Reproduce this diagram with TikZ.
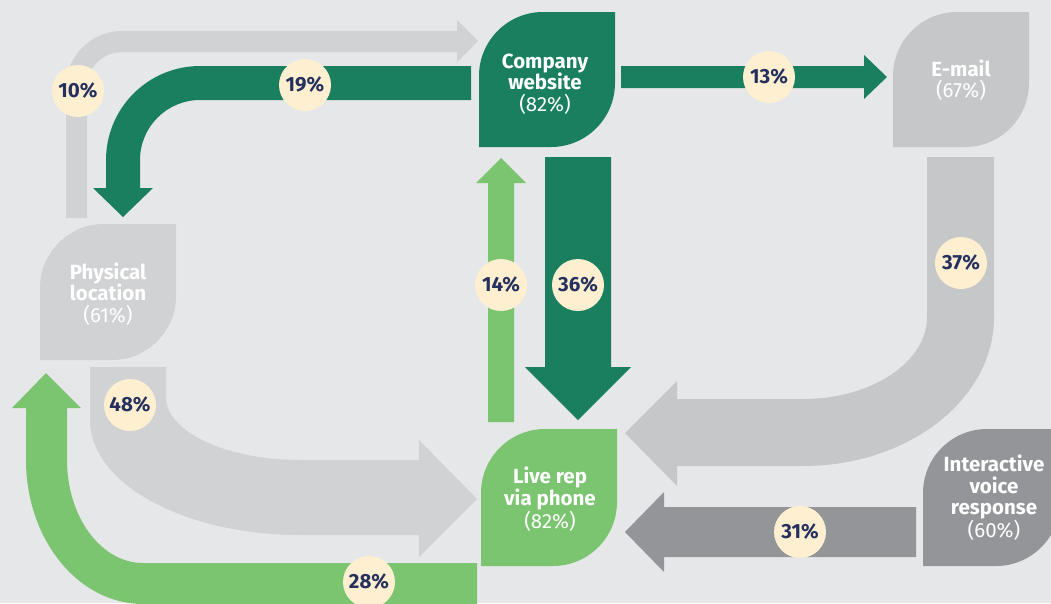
\documentclass[tikz,border=0pt]{standalone}
\usepackage{fontspec}
\setmainfont{Fira Sans}
\definecolor{bg}{HTML}{E6E7E9}
\definecolor{darkgreen}{HTML}{197F5E}
\definecolor{lightgreen}{HTML}{7BC470}
\definecolor{palegray}{HTML}{D1D2D4}
\definecolor{midgray}{HTML}{C6C7C9}
\definecolor{darkgray}{HTML}{939598}
\definecolor{cream}{HTML}{FEEFD1}
\definecolor{navy}{HTML}{24305E}

% corner radius of the leaf boxes and its Bezier handle length
\newcommand{\leafrad}{64}
\newcommand{\leafk}{35.3}
% leaf box: x0, y0, x1, y1, colour (top-left and bottom-right corners rounded)
\newcommand{\leafbox}[5]{%
  \fill[#5] (#1,#4) -- ({#1},{#2+\leafrad})
    .. controls ({#1},{#2+\leafrad-\leafk}) and ({#1+\leafrad-\leafk},{#2}) .. ({#1+\leafrad},{#2})
    -- (#3,#2) -- ({#3},{#4-\leafrad})
    .. controls ({#3},{#4-\leafrad+\leafk}) and ({#3-\leafrad+\leafk},{#4}) .. ({#3-\leafrad},{#4})
    -- cycle;}

\tikzset{
  pct/.style={circle, fill=cream, minimum size=52pt, inner sep=0pt, text=navy,
    font=\bfseries\fontsize{20.5}{22}\selectfont},
  leaflabel/.style={text=white, align=center,
    font=\bfseries\fontsize{20.5}{21.5}\selectfont},
}

\begin{document}
\begin{tikzpicture}[x=1pt,y=-1pt]
\useasboundingbox (0,0) rectangle (1051,603);
\fill[bg] (0,0) rectangle (1051,603);
\begin{scope}
\clip (0,0) rectangle (1051,603);

% Physical location -> Company website (10%)
\fill[palegray] (66,218) -- (66,87) .. controls (66,56.1) and (91.1,31) .. (122,31)
  -- (457,31) -- (457,20) -- (478,41) -- (457,62) -- (457,52) -- (122,52)
  .. controls (102.7,52) and (87,67.7) .. (87,87) -- (87,218) -- cycle;

% Company website -> Physical location (19%)
\fill[darkgreen] (471,66) -- (200,66) .. controls (148.1,66) and (106,108.1) .. (106,160)
  -- (106,188) -- (93,188) -- (123,217) -- (153,188) -- (140,188) -- (140,160)
  .. controls (140,126.9) and (166.9,100) .. (200,100) -- (471,100) -- cycle;

% Company website -> E-mail (13%)
\fill[darkgreen] (621,66) -- (864,66) -- (864,55) -- (887,77) -- (864,99) -- (864,88) -- (621,88) -- cycle;

% Company website -> Live rep (36%)
\fill[darkgreen] (545,157) -- (611,157) -- (611,367) -- (631,367) -- (578,420) -- (525,367) -- (545,367) -- cycle;

% Live rep -> Company website (14%)
\fill[lightgreen] (488,422) -- (488,183) -- (476,183) -- (501,158) -- (526,183) -- (514,183) -- (514,422) -- cycle;

% E-mail -> Live rep (37%)
\fill[midgray] (927,157) -- (994,157) -- (994,317)
  .. controls (994,399.3) and (908.5,466) .. (803,466)
  -- (677,466) -- (677,486) -- (625,433) -- (677,381) -- (677,399) -- (803,399)
  .. controls (871.5,399) and (927,362.3) .. (927,317) -- cycle;

% Interactive voice response -> Live rep (31%)
\fill[darkgray] (916,507) -- (664,507) -- (664,492) -- (625,532) -- (664,572) -- (664,557) -- (916,557) -- cycle;

% Physical location -> Live rep (48%)
\fill[palegray] (90,367) -- (166,367) -- (166,397)
  .. controls (166,431.8) and (226,460) .. (300,460)
  -- (419,460) -- (419,440) -- (477,499) -- (419,557) -- (419,535) -- (300,535)
  .. controls (184,535) and (90,483.5) .. (90,420) -- cycle;

% Live rep -> Physical location (28%)
\fill[lightgreen] (477,563) -- (143,563) .. controls (101,563) and (67,516.9) .. (67,460)
  -- (67,408) -- (81,408) -- (46,373) -- (12,408) -- (26,408) -- (26,460)
  .. controls (26,539.5) and (78.4,604) .. (143,604) -- (477,604) -- cycle;

% channel boxes
\leafbox{479}{12}{615}{147}{darkgreen}
\leafbox{893}{12}{1029}{147}{midgray}
\leafbox{40}{224}{176}{360}{palegray}
\leafbox{481}{429}{617}{566}{lightgreen}
\leafbox{923}{429}{1060}{566}{darkgray}

\node[leaflabel] (web) at (545,84) {Company\\website\\{\mdseries(82\%)}};
\node[leaflabel] (mail) at (961,80) {E-mail\\{\mdseries(67\%)}};
\node[leaflabel] (loc) at (108,294) {Physical\\location\\{\mdseries(61\%)}};
\node[leaflabel] (rep) at (550,499) {Live rep\\via phone\\{\mdseries(82\%)}};
\node[leaflabel] (ivr) at (994,498) {Interactive\\voice\\response\\{\mdseries(60\%)}};

% flow shares
\node[pct] (p10) at (78,91) {10\%};
\node[pct] (p19) at (305,85) {19\%};
\node[pct] (p13) at (769,77) {13\%};
\node[pct] (p36) at (578,285) {36\%};
\node[pct] (p14) at (501,285) {14\%};
\node[pct] (p37) at (961,263) {37\%};
\node[pct] (p31) at (800,532) {31\%};
\node[pct] (p48) at (130,405) {48\%};
\node[pct] (p28) at (369,582) {28\%};
\end{scope}
\end{tikzpicture}
\end{document}
